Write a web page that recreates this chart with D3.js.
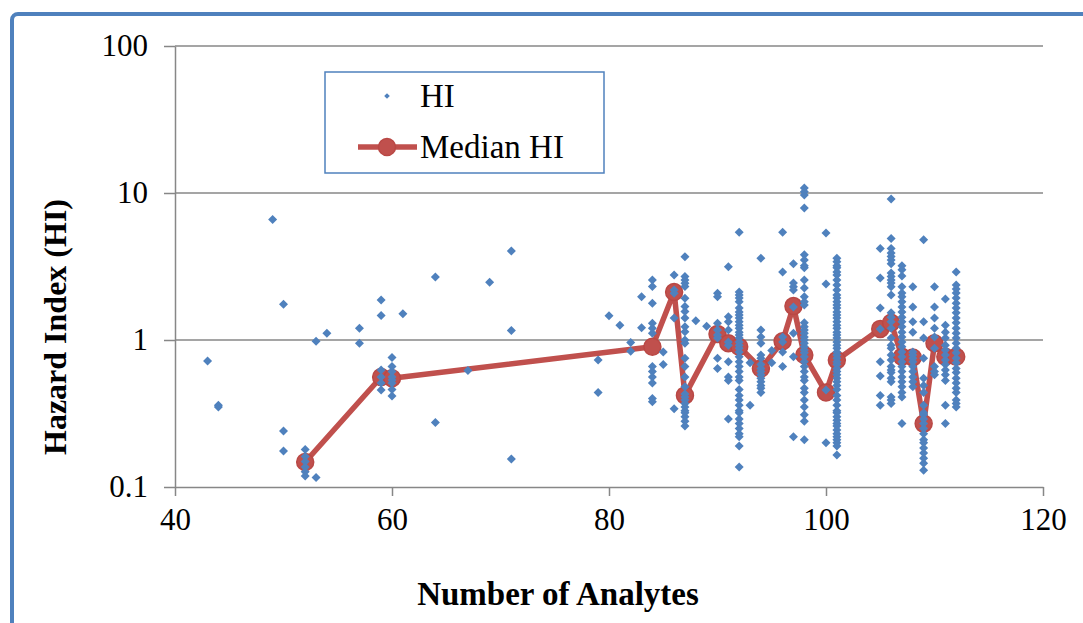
<!DOCTYPE html>
<html><head><meta charset="utf-8">
<script src="https://cdn.jsdelivr.net/npm/d3@7"></script>
<style>html,body{margin:0;padding:0;background:#fff;} svg{display:block;} text{font-family:"Liberation Serif","Times New Roman","DejaVu Serif",serif;}</style>
</head><body>
<svg id="chart" width="1083" height="623"></svg>
<script>
const xTicks = [40, 60, 80, 100, 120];
const yTicks = [0.1, 1, 10, 100];
const yTickLabels = ["0.1", "1", "10", "100"];

// HI scatter: x = number of analytes, values = HI observed at that x
const hiX = [43, 44, 49, 50, 52, 53, 54, 57, 59, 60, 61, 64, 67, 69, 71, 79, 80, 81, 82, 83, 84, 85, 86, 87, 88, 89, 90, 91, 92, 93, 94, 95, 96, 97, 98, 100, 101, 105, 106, 107, 108, 109, 110, 111, 112];
const hiValues = [
  [0.72],
  [0.36, 0.35],
  [6.6],
  [1.75, 0.24, 0.176],
  [0.18, 0.161, 0.149, 0.137, 0.127, 0.119],
  [0.98, 0.116],
  [1.11],
  [1.2, 0.95],
  [1.87, 1.47, 0.625, 0.56, 0.51, 0.457],
  [0.76, 0.66, 0.61, 0.56, 0.535, 0.51, 0.46, 0.416],
  [1.51],
  [2.68, 0.275],
  [0.62],
  [2.47],
  [4.03, 1.16, 0.155],
  [0.73, 0.44],
  [1.46],
  [1.26],
  [0.96, 0.84],
  [1.97, 1.21],
  [2.56, 2.31, 1.78, 1.30, 1.20, 1.11, 0.66, 0.61, 0.56, 0.51, 0.40, 0.38],
  [0.83, 0.68],
  [2.77, 2.19, 2.08, 1.41, 0.34],
  [3.69, 2.70, 2.56, 2.43, 2.31, 1.92, 1.69, 1.56, 1.41, 1.23, 1.14, 1.0, 0.95, 0.75, 0.66, 0.56, 0.48, 0.43, 0.41, 0.39, 0.37, 0.35, 0.33, 0.32, 0.30, 0.28, 0.26],
  [1.35],
  [1.24],
  [2.08, 1.97, 1.30, 1.17, 1.08, 1.03, 0.75, 0.64],
  [3.15, 1.44, 1.33, 1.17, 0.97, 0.92, 0.71, 0.56, 0.53, 0.29],
  [5.4, 2.12, 2.02, 1.93, 1.82, 1.65, 1.55, 1.48, 1.41, 1.33, 1.26, 1.2, 1.13, 1.08, 1.03, 0.97, 0.92, 0.88, 0.83, 0.77, 0.71, 0.66, 0.61, 0.56, 0.53, 0.46, 0.42, 0.39, 0.36, 0.33, 0.32, 0.29, 0.27, 0.25, 0.23, 0.22, 0.19, 0.137],
  [0.70, 0.36],
  [3.6, 1.17, 1.05, 0.95, 0.79, 0.75, 0.68, 0.64, 0.61, 0.58, 0.55, 0.52, 0.49, 0.47, 0.44],
  [0.85, 0.70],
  [5.4, 2.9, 1.05, 0.97, 0.83, 0.66],
  [3.3, 2.44, 2.3, 2.19, 1.68, 1.11, 0.77, 0.22],
  [10.8, 10.2, 9.7, 7.9, 3.8, 3.5, 3.2, 3.1, 2.56, 2.26, 1.97, 1.82, 1.73, 1.31, 1.23, 1.17, 1.11, 1.05, 1.0, 0.95, 0.9, 0.855, 0.82, 0.77, 0.71, 0.66, 0.61, 0.56, 0.53, 0.47, 0.44, 0.39, 0.35, 0.31, 0.28, 0.21],
  [5.35, 2.4, 0.457, 0.2],
  [3.6, 3.4, 3.2, 3.1, 2.9, 2.77, 2.56, 2.37, 2.19, 2.02, 1.93, 1.82, 1.73, 1.65, 1.55, 1.48, 1.41, 1.33, 1.26, 1.2, 1.13, 1.08, 1.03, 0.97, 0.92, 0.88, 0.83, 0.79, 0.75, 0.71, 0.68, 0.64, 0.61, 0.58, 0.55, 0.52, 0.49, 0.46, 0.42, 0.39, 0.36, 0.33, 0.32, 0.30, 0.285, 0.27, 0.26, 0.244, 0.23, 0.22, 0.21, 0.2, 0.19, 0.165],
  [4.2, 2.64, 1.65, 1.19, 0.71, 0.57, 0.42, 0.36],
  [9.1, 4.9, 4.2, 3.9, 3.7, 3.5, 3.3, 2.86, 2.7, 2.56, 2.44, 2.3, 2.02, 1.53, 1.43, 1.33, 1.2, 1.03, 0.92, 0.88, 0.79, 0.73, 0.66, 0.625, 0.6, 0.55, 0.52, 0.41, 0.39, 0.37],
  [3.2, 3.0, 2.73, 2.3, 2.09, 1.97, 1.82, 1.68, 1.55, 1.43, 1.33, 1.23, 1.13, 1.05, 0.97, 0.9, 0.83, 0.77, 0.71, 0.66, 0.61, 0.56, 0.52, 0.48, 0.44, 0.41, 0.27],
  [2.3, 1.68, 1.33, 1.13, 0.83, 0.79, 0.75, 0.71, 0.66, 0.61, 0.56, 0.52, 0.48],
  [4.8, 1.33, 1.03, 0.75, 0.55, 0.49, 0.44, 0.36, 0.32, 0.31, 0.29, 0.27, 0.25, 0.23, 0.21, 0.2, 0.184, 0.17, 0.157, 0.145, 0.13],
  [2.3, 1.68, 1.41, 1.2, 1.05, 0.88, 0.66, 0.61, 0.58],
  [1.9, 1.26, 1.13, 1.03, 0.92, 0.855, 0.79, 0.73, 0.68, 0.625, 0.58, 0.53, 0.36, 0.27],
  [2.9, 2.37, 2.22, 2.09, 1.93, 1.78, 1.65, 1.53, 1.41, 1.31, 1.2, 1.11, 1.03, 0.95, 0.88, 0.82, 0.75, 0.7, 0.64, 0.6, 0.55, 0.51, 0.47, 0.44, 0.39, 0.37, 0.35]
];

const medianX = [52, 59, 60, 84, 86, 87, 90, 91, 92, 94, 96, 97, 98, 100, 101, 105, 106, 107, 108, 109, 110, 111, 112];
const medianY = [0.148, 0.56, 0.55, 0.9, 2.12, 0.42, 1.1, 0.95, 0.9, 0.64, 0.98, 1.7, 0.79, 0.44, 0.73, 1.19, 1.31, 0.77, 0.76, 0.27, 0.95, 0.77, 0.77];

const legendLabels = ["HI", "Median HI"];

const W = 1083, H = 623;
const FONT = "Liberation Serif, Times New Roman, DejaVu Serif, serif";
const BLUE = "#4F81BD", RED = "#C0504D", GRID = "#878787";
const plot = {left: 175, right: 1043, top: 46, bottom: 487};

const svg = d3.select("#chart");
const x = d3.scaleLinear().domain([40, 120]).range([plot.left, plot.right]);
const y = d3.scaleLog().domain([0.1, 100]).range([plot.bottom, plot.top]);

svg.append("rect").attr("width", W).attr("height", H).attr("fill", "#fff");
// outer chart frame (extends past the right / bottom edge)
svg.append("rect").attr("x", 12).attr("y", 14).attr("width", W + 20).attr("height", H + 20)
  .attr("rx", 6).attr("fill", "none").attr("stroke", BLUE).attr("stroke-width", 4);

// horizontal gridlines
svg.append("g").selectAll("line").data(yTicks.slice(1)).join("line")
  .attr("x1", plot.left).attr("x2", plot.right)
  .attr("y1", d => y(d)).attr("y2", d => y(d))
  .attr("stroke", GRID).attr("stroke-width", 1.5);

// axes
const yAxis = d3.axisLeft(y).tickValues(yTicks).tickFormat((d, i) => yTickLabels[i])
  .tickSize(11).tickSizeOuter(0).tickPadding(16);
const gy = svg.append("g").attr("transform", `translate(${plot.left},0)`).call(yAxis);
const xAxis = d3.axisBottom(x).tickValues(xTicks).tickFormat(d3.format("d"))
  .tickSize(9).tickSizeOuter(0).tickPadding(34);
const gx = svg.append("g").attr("transform", `translate(0,${plot.bottom})`).call(xAxis);

[gx, gy].forEach(g => {
  g.attr("font-family", null).attr("font-size", null);
  g.select(".domain").attr("stroke", GRID).attr("stroke-width", 1.5);
  g.selectAll(".tick line").attr("stroke", GRID).attr("stroke-width", 1.5);
  g.selectAll(".tick text").attr("fill", "#000").attr("font-family", FONT).attr("font-size", 31);
});
gx.selectAll(".tick text").attr("dy", "0");

// median line + markers
const line = d3.line().x((d, i) => x(medianX[i])).y((d, i) => y(medianY[i]));
svg.append("path").datum(medianY).attr("d", line)
  .attr("fill", "none").attr("stroke", RED).attr("stroke-width", 5.5).attr("stroke-linejoin", "round");
svg.append("g").selectAll("circle").data(medianY).join("circle")
  .attr("cx", (d, i) => x(medianX[i])).attr("cy", d => y(d)).attr("r", 8.5)
  .attr("fill", RED).attr("stroke", "#B94845").attr("stroke-width", 1.5);

// HI scatter (diamonds)
const hiPoints = hiX.flatMap((xv, i) => hiValues[i].map(v => ({x: xv, v})));
const diamond = "M0,-4.5L4.5,0L0,4.5L-4.5,0Z";
svg.append("g").selectAll("path").data(hiPoints).join("path")
  .attr("d", diamond)
  .attr("transform", d => `translate(${x(d.x)},${y(d.v)})`)
  .attr("fill", BLUE);

// axis titles
svg.append("text").attr("x", (plot.left + plot.right) / 2 - 51).attr("y", 605)
  .attr("text-anchor", "middle").attr("font-family", FONT).attr("font-size", 33)
  .attr("font-weight", "bold").text("Number of Analytes");
svg.append("text").attr("transform", "translate(66,327) rotate(-90)")
  .attr("text-anchor", "middle").attr("font-family", FONT).attr("font-size", 32)
  .attr("font-weight", "bold").text("Hazard Index (HI)");

// legend
const lg = svg.append("g");
lg.append("rect").attr("x", 325).attr("y", 72).attr("width", 279).attr("height", 101)
  .attr("fill", "#fff").attr("stroke", BLUE).attr("stroke-width", 1.5);
lg.append("path").attr("d", "M0,-2.8L2.8,0L0,2.8L-2.8,0Z").attr("transform", "translate(387,96)").attr("fill", BLUE);
lg.append("line").attr("x1", 358).attr("x2", 417).attr("y1", 147).attr("y2", 147)
  .attr("stroke", RED).attr("stroke-width", 5.5);
lg.append("circle").attr("cx", 387).attr("cy", 147).attr("r", 8.5).attr("fill", RED).attr("stroke", "#B94845").attr("stroke-width", 1.5);
lg.selectAll("text.lgt").data(legendLabels).join("text").attr("class", "lgt")
  .attr("x", 420).attr("y", (d, i) => 107 + i * 51)
  .attr("font-family", FONT).attr("font-size", 33).attr("fill", "#000").text(d => d);
</script>
</body></html>
